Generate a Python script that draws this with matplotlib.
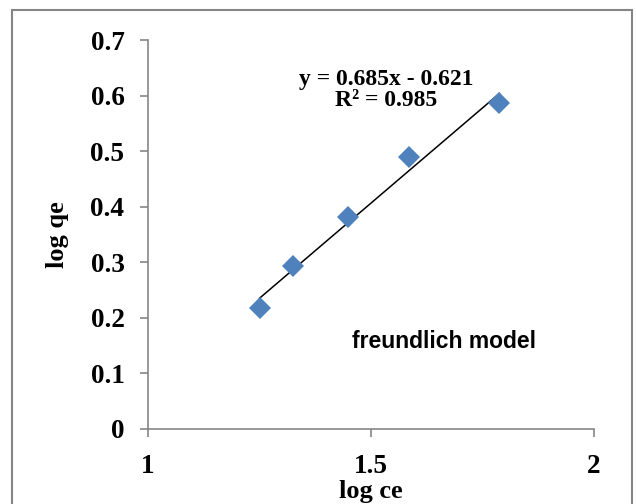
import matplotlib
matplotlib.use("Agg")
import matplotlib.pyplot as plt
from matplotlib.patches import Rectangle
import numpy as np

# data
log_ce = [1.250, 1.326, 1.449, 1.585, 1.788]
log_qe = [0.217, 0.294, 0.382, 0.490, 0.587]
slope, intercept, r2 = 0.685, -0.621, 0.985

x_ticks = [1, 1.5, 2]
y_ticks = [0, 0.1, 0.2, 0.3, 0.4, 0.5, 0.6, 0.7]

serif = "Liberation Serif"
axis_gray = "#868686"

fig = plt.figure(figsize=(6.36, 5.04), dpi=100)
ax = fig.add_axes([148 / 636, 1 - 429 / 504, 446 / 636, 389 / 504])

# outer chart border (bottom edge falls outside the image)
fig.patches.append(Rectangle((12 / 636, -0.05), 620 / 636, 1.05 - 10 / 504,
                             transform=fig.transFigure, fill=False,
                             edgecolor=axis_gray, linewidth=1.5))

# trendline from the fitted equation
xs = np.array([min(log_ce), max(log_ce)])
ax.plot(xs, slope * xs + intercept, color="black", linewidth=1.1, zorder=2)
ax.plot(log_ce, log_qe, linestyle="none", marker="D", markersize=11.5,
        color="#4F81BD", markeredgewidth=0, zorder=3)

ax.set_xlim(1, 2)
ax.set_ylim(0, 0.7)
ax.set_xticks(x_ticks)
ax.set_yticks(y_ticks)
ax.set_xticklabels(["1", "1.5", "2"])
ax.set_yticklabels(["0", "0.1", "0.2", "0.3", "0.4", "0.5", "0.6", "0.7"])

for side in ["top", "right"]:
    ax.spines[side].set_visible(False)
for side in ["left", "bottom"]:
    ax.spines[side].set_color(axis_gray)
    ax.spines[side].set_linewidth(1.2)

ax.tick_params(axis="both", direction="out", length=6, width=1.2,
               color=axis_gray, labelsize=19.5)
ax.tick_params(axis="x", pad=12)
ax.tick_params(axis="y", pad=11)
for lab in ax.get_xticklabels() + ax.get_yticklabels():
    lab.set_fontfamily(serif)
    lab.set_fontweight("bold")

ax.set_xlabel("log ce", fontfamily=serif, fontweight="bold", fontsize=19)
ax.set_ylabel("log qe", fontfamily=serif, fontweight="bold", fontsize=19)
ax.xaxis.set_label_coords(0.5, -0.13)
ax.yaxis.set_label_coords(-0.177, 0.5)

ax.text(1.534, 0.610, "y = 0.685x - 0.621\nR² = 0.985", ha="center",
        va="center", fontfamily=serif, fontweight="bold", fontsize=17,
        linespacing=1.0)
ax.text(1.6626, 0.1566, "freundlich model", ha="center", va="center",
        fontfamily="Liberation Sans", fontweight="bold", fontsize=16.5)

fig.savefig("out.png", dpi=100)
